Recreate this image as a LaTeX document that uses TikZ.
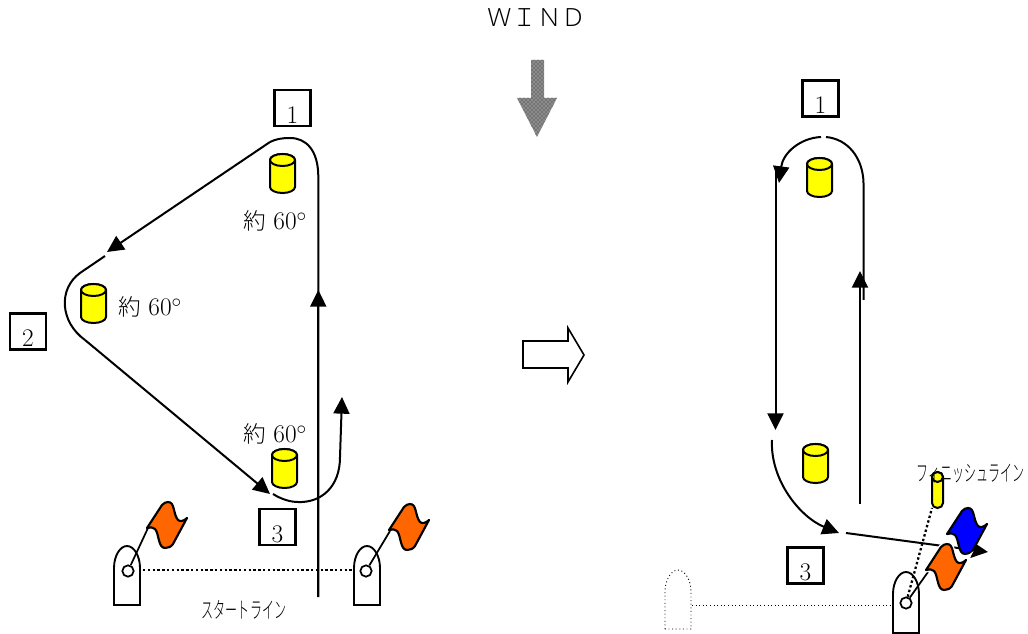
\documentclass[tikz,border=0pt]{standalone}
\usepackage{fontspec}
\newfontfamily\cjk{Noto Sans CJK JP Light}
\usetikzlibrary{arrows.meta,patterns}
\definecolor{flagorange}{RGB}{255,102,0}
\definecolor{flagblue}{RGB}{0,0,255}
\definecolor{cylyellow}{RGB}{255,255,0}
\tikzset{
  route/.style={line width=1.5pt,black},
  routetip/.style={route,-{Triangle[length=12.5pt,width=12pt]}},
  numbox/.style={draw,line width=1.9pt,minimum size=27pt,inner sep=0pt,font=\fontsize{19}{22}\selectfont},
  anglab/.style={inner sep=0pt,font=\fontsize{19}{22}\selectfont},
  boatline/.style={line width=1.4pt,fill=white},
  ghost/.style={line width=0.7pt,dotted,fill=white},
  hub/.style={circle,draw,line width=1.3pt,fill=white,minimum size=8.5pt,inner sep=0pt},
  cylstyle/.style={line width=1.5pt,fill=cylyellow},
  startdots/.style={line width=1.7pt,dash pattern=on 1.8pt off 1.8pt},
  hollow/.style={draw,line width=1.2pt,fill=white}
}
\newcommand{\cylmark}[5][1]{%
  \begin{scope}[shift={(#2,#3)}]
    \draw[cylstyle] (0,#5) -- (0,{#4-#5}) arc[start angle=180,end angle=0,x radius=#1,y radius=#5]
      -- ({2*#1},#5) arc[start angle=0,end angle=-180,x radius=#1,y radius=#5] -- cycle;
    \draw[cylstyle] (#1,#5) ellipse[x radius=#1,y radius=#5];
  \end{scope}}
\def\flagpath{(0,26) -- (15,3) .. controls (17,1) and (19,0) .. (21,0)
      .. controls (28,0) and (26,12) .. (31,18) .. controls (33,20) and (37,19) .. (40,16)
      -- (26,42) .. controls (24,45) and (21,46) .. (18,46)
      .. controls (11,46) and (12,31) .. (8,27) .. controls (6,25) and (3,25) .. (0,26) -- cycle}
\newcommand{\flagmark}[3]{%
  \begin{scope}[shift={(#1,#2)}]
    \draw[line width=1.6pt,line join=round,fill=#3] \flagpath;
  \end{scope}}
\newcommand{\flaghalo}[2]{%
  \begin{scope}[shift={(#1,#2)}]
    \draw[line width=3.6pt,white,fill=white] \flagpath;
  \end{scope}}
\newcommand{\boatmark}[4]{%
  \draw[#1] (#2,{#3+#4}) -- (#2,#3+22) .. controls (#2,#3+10) and (#2+6,#3) .. (#2+13,#3)
    .. controls (#2+20,#3) and (#2+26,#3+10) .. (#2+26,#3+22) -- (#2+26,{#3+#4}) -- cycle;}
\newcommand{\boxnum}[1]{\raisebox{-11.5pt}[0pt][0pt]{#1}}
\newcommand{\yaku}{{\fontsize{17}{20}\cjk 約}}
\begin{document}
\begin{tikzpicture}[x=0.75pt,y=-0.75pt]
\useasboundingbox (0,0) rectangle (1028,634);
% wind
\node[inner sep=0pt,font=\fontsize{18.4}{20}\cjk] (wind) at (537,18) {ＷＩＮＤ};
\path[fill=black!45] (531,60) -- (544,60) -- (544,98) -- (557,98) -- (537,137) -- (517,98) -- (531,98) -- cycle;
\path[pattern=crosshatch dots,pattern color=black!85] (531,60) -- (544,60) -- (544,98) -- (557,98) -- (537,137) -- (517,98) -- (531,98) -- cycle;
% hollow arrow
\draw[hollow] (523,341) -- (568,341) -- (568,328) -- (584,355) -- (568,382) -- (568,368) -- (523,368) -- cycle;
% number boxes
\node[numbox] (a1) at (292.5,108) {\boxnum{1}};
\node[numbox] (a2) at (28,331.5) {\boxnum{2}};
\node[numbox] (a3) at (277.5,527) {\boxnum{3}};
\node[numbox] (b1) at (820.5,98.5) {\boxnum{1}};
\node[numbox] (b3) at (805.5,565.5) {\boxnum{3}};
% cylinders
\cylmark[12.5]{270}{154}{39}{6}
\cylmark[12.5]{81}{284}{39}{6}
\cylmark[12.5]{272}{449}{39}{6}
\cylmark[12.5]{807}{158}{39}{6}
\cylmark[12.5]{803}{444}{39}{6}
\cylmark[5.5]{932}{472}{36}{5}
% angle labels
\node[anglab] (t1) at (275,221) {\yaku{} 60$^\circ$};
\node[anglab] (t2) at (150,307) {\yaku{} 60$^\circ$};
\node[anglab] (t3) at (275,434) {\yaku{} 60$^\circ$};
% left course
\coordinate (p0) at (318.3,597);
\coordinate (p1) at (318.3,176);
\coordinate (p1a) at (318.3,290);
\coordinate (p2) at (270,142);
\coordinate (p3) at (107,252);
\coordinate (p4) at (105,256);
\coordinate (p5) at (85,340);
\coordinate (p6) at (270,494);
\coordinate (p7) at (273,494);
\coordinate (p8) at (340,457);
\coordinate (p9) at (342,397);
\draw[route] (p0) -- (p1) .. controls (318,150) and (306,138) .. (290,138) .. controls (282,138) and (276,139) .. (p2);
\draw[routetip] (p0) -- (p1a);
\draw[routetip] (p2) -- (p3);
\draw[route] (p4) -- (80,273) .. controls (58,289) and (60,322) .. (p5);
\draw[routetip] (p5) -- (p6);
\draw[route] (p7) .. controls (281,499) and (290,502) .. (298,502) .. controls (320,503) and (340,488) .. (p8);
\draw[routetip] (p8) -- (p9);
% start line
\boatmark{boatline}{114}{546}{59}
\boatmark{boatline}{354}{546}{59}
\coordinate (s1) at (143,570);
\coordinate (s2) at (354,570);
\draw[startdots] (s1) -- (s2);
\node[hub] (h1) at (128,571) {};
\node[hub] (h2) at (366,571) {};
\coordinate (f1) at (148,528);
\coordinate (f2) at (390,531);
\draw[line width=1.3pt] (h1) -- (f1);
\draw[line width=1.3pt] (h2) -- (f2);
\flagmark{147}{502}{flagorange}
\flagmark{389}{504}{flagorange}
\node[inner sep=0pt] (st) at (244,610) {\scalebox{0.53}[1]{\fontsize{17}{20}\cjk スタートライン}};
% right course
\coordinate (q0) at (860,504);
\coordinate (q1) at (860,271);
\coordinate (q2) at (863.5,300);
\coordinate (q3) at (863.5,183);
\coordinate (q4) at (826,137);
\coordinate (q5) at (821,137);
\coordinate (q6) at (779,183);
\coordinate (q7) at (775.5,167);
\coordinate (q8) at (775.5,430);
\coordinate (q9) at (772,440);
\coordinate (q10) at (839,533);
\coordinate (q11) at (846,533);
\coordinate (q12) at (988,552);
\draw[routetip] (q0) -- (q1);
\draw[route] (q2) -- (q3) .. controls (863,158) and (848,139) .. (q4);
\draw[routetip] (q5) .. controls (800,138) and (783,153) .. (q6);
\draw[routetip] (q7) -- (q8);
\draw[routetip] (q9) .. controls (770,480) and (800,517) .. (q10);
\draw[routetip] (q11) -- (q12);
% finish line
\boatmark{ghost}{665}{570}{59}
\boatmark{boatline}{893}{572}{61}
\coordinate (g1) at (692,605);
\coordinate (g2) at (893,605);
\draw[line width=0.7pt,dotted] (g1) -- (g2);
\coordinate (c1) at (932,508);
\node[hub] (h3) at (906,603) {};
\coordinate (f3) at (928,572);
\draw[startdots] (h3) -- (c1);
\draw[line width=1.3pt] (h3) -- (f3);
\flagmark{947}{508}{flagblue}
\flaghalo{926}{544}
\flagmark{926}{544}{flagorange}
\node[inner sep=0pt] (ft) at (970.5,474) {\scalebox{0.53}[1]{\fontsize{17}{20}\cjk フィニッシュライン}};
\end{tikzpicture}
\end{document}
